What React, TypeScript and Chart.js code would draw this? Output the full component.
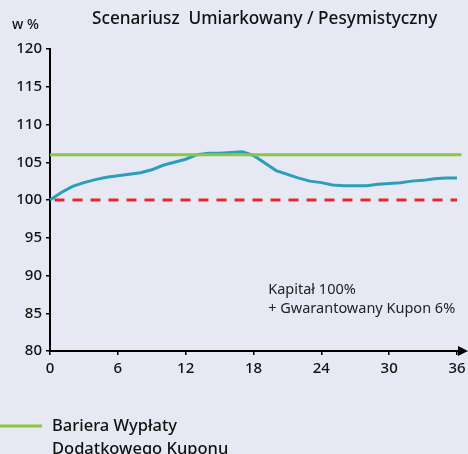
import React, { useEffect, useRef } from "react";
import { Chart, registerables } from "chart.js";

Chart.register(...registerables);

const months = [0, 1, 2, 3, 4, 5, 6, 7, 8, 9, 10, 11, 12, 13, 14, 15, 16, 17, 18, 19, 20, 21, 22, 23, 24, 25, 26, 27, 28, 29, 30, 31, 32, 33, 34, 35, 36];
const capitalValues = [100, 101, 101.8, 102.3, 102.7, 103.0, 103.2, 103.4, 103.6, 104.0, 104.6, 105.0, 105.4, 106.0, 106.2, 106.2, 106.3, 106.4, 105.9, 104.9, 103.9, 103.4, 102.9, 102.5, 102.3, 102.0, 101.9, 101.9, 101.9, 102.1, 102.2, 102.3, 102.5, 102.6, 102.8, 102.9, 102.9];
const barrierX = [0, 36.4];
const barrierY = [106, 106];
const guaranteeX = [0.4, 36];
const guaranteeY = [100, 100];
const xTicks = [0, 6, 12, 18, 24, 30, 36];
const yTicks = [80, 85, 90, 95, 100, 105, 110, 115, 120];

const titleText = "Scenariusz  Umiarkowany / Pesymistyczny";
const unitText = "w %";
const noteLines = ["Kapitał 100%", "+ Gwarantowany Kupon 6%"];
const legendLines = ["Bariera Wypłaty", "Dodatkowego Kuponu"];

const FONT = "'Noto Sans', sans-serif";
const BG = "#e6e9f3";

const decorPlugin = {
  id: "decor",
  afterDraw(chart: any) {
    const ctx = chart.ctx;
    const area = chart.chartArea;
    const xs = chart.scales.x;
    const ys = chart.scales.y;
    ctx.save();
    // x axis arrow
    const yb = ys.getPixelForValue(80);
    ctx.strokeStyle = "#000";
    ctx.lineWidth = 2;
    ctx.beginPath();
    ctx.moveTo(area.right, yb);
    ctx.lineTo(area.right + 4, yb);
    ctx.stroke();
    ctx.fillStyle = "#000";
    ctx.beginPath();
    ctx.moveTo(area.right + 1, yb - 5);
    ctx.lineTo(area.right + 11, yb);
    ctx.lineTo(area.right + 1, yb + 5);
    ctx.closePath();
    ctx.fill();

    // title
    ctx.fillStyle = "#111";
    ctx.textBaseline = "middle";
    ctx.textAlign = "left";
    ctx.font = `500 17.2px ${FONT}`;
    ctx.fillText(titleText, 92, 19);
    ctx.font = `500 14px ${FONT}`;
    ctx.fillText(unitText, 12, 25);

    // note
    ctx.font = `14.5px ${FONT}`;
    ctx.fillStyle = "#222";
    const nx = xs.getPixelForValue(19.3);
    ctx.fillText(noteLines[0], nx, 290);
    ctx.fillText(noteLines[1], nx, 309);

    // legend
    ctx.strokeStyle = "#8dc63f";
    ctx.lineWidth = 3;
    ctx.beginPath();
    ctx.moveTo(0, 426);
    ctx.lineTo(42, 426);
    ctx.stroke();
    ctx.fillStyle = "#111";
    ctx.font = `500 16.5px ${FONT}`;
    ctx.fillText(legendLines[0], 52, 426);
    ctx.fillText(legendLines[1], 52, 449);
    ctx.restore();
  },
};

function App() {
  const ref = useRef<HTMLCanvasElement | null>(null);
  useEffect(() => {
    if (!ref.current) return;
    const chart = new Chart(ref.current, {
      type: "line",
      data: {
        datasets: [
          {
            label: "Bariera",
            data: barrierX.map((x, i) => ({ x, y: barrierY[i] })),
            borderColor: "#8dc63f",
            borderWidth: 3,
            pointRadius: 0,
            fill: false,
          },
          {
            label: "Gwarancja",
            data: guaranteeX.map((x, i) => ({ x, y: guaranteeY[i] })),
            borderColor: "#e8262a",
            borderWidth: 3,
            borderDash: [10, 8],
            pointRadius: 0,
            fill: false,
          },
          {
            label: "Kapitał",
            data: months.map((m, i) => ({ x: m, y: capitalValues[i] })),
            borderColor: "#2a9fbc",
            borderWidth: 3,
            pointRadius: 0,
            tension: 0,
            fill: false,
          },
        ],
      },
      options: {
        animation: false,
        responsive: false,
        maintainAspectRatio: false,
        devicePixelRatio: 1,
        layout: { padding: { left: 0, top: 49, right: 11, bottom: 73 } },
        plugins: { legend: { display: false }, tooltip: { enabled: false }, title: { display: false } },
        datasets: { line: { clip: false } } as any,
        scales: {
          x: {
            type: "linear",
            min: 0,
            max: 36,
            afterFit: (s: any) => { s.height = 30; s.paddingRight = 0; s.paddingLeft = 0; },
            afterBuildTicks: (s: any) => { s.ticks = xTicks.map((v) => ({ value: v })); },
            grid: { drawOnChartArea: false, drawTicks: true, tickLength: 4, color: "#000", lineWidth: 1.5 },
            border: { display: true, color: "#000", width: 2 },
            ticks: { color: "#111", font: { family: FONT, size: 15, weight: "500" }, padding: 5, maxRotation: 0, autoSkip: false },
          },
          y: {
            type: "linear",
            min: 80,
            max: 120,
            afterFit: (s: any) => { s.width = 50; s.paddingTop = 0; s.paddingBottom = 0; },
            afterBuildTicks: (s: any) => { s.ticks = yTicks.map((v) => ({ value: v })); },
            grid: { drawOnChartArea: false, drawTicks: true, tickLength: 4, color: "#000", lineWidth: 1.5 },
            border: { display: true, color: "#000", width: 2 },
            ticks: { color: "#111", font: { family: FONT, size: 15, weight: "500" }, padding: 4, autoSkip: false },
          },
        },
      },
      plugins: [decorPlugin],
    });
    return () => chart.destroy();
  }, []);
  return (
    <div style={{ position: "fixed", left: 0, top: 0, width: 468, height: 454, background: BG, overflow: "hidden" }}>
      <canvas ref={ref} width={468} height={454} style={{ display: "block", width: 468, height: 454 }} />
    </div>
  );
}

export default App;
